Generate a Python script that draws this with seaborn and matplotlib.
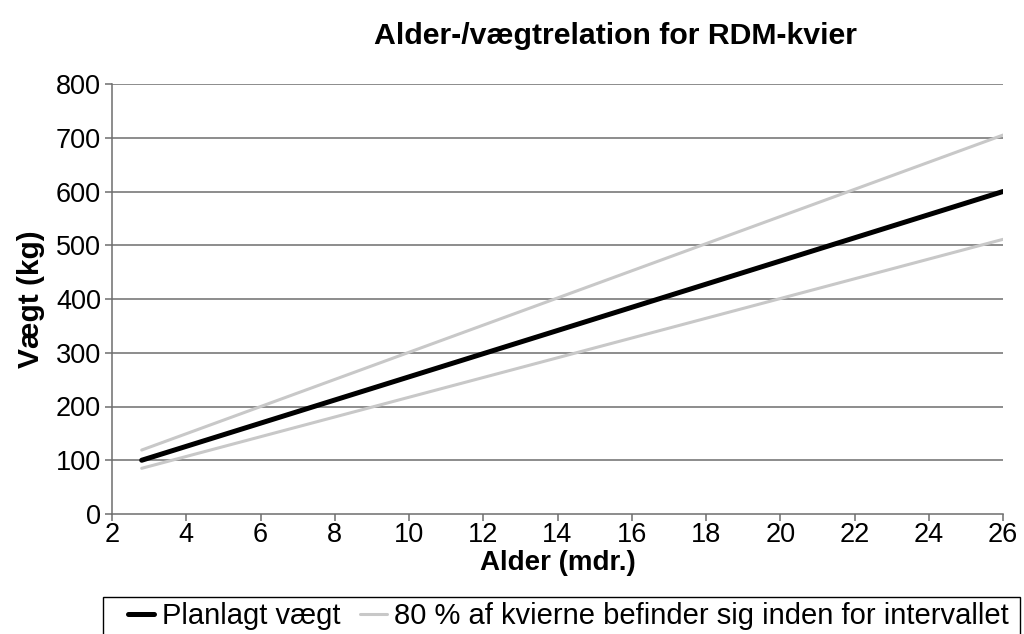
import numpy as np
import pandas as pd
import matplotlib
matplotlib.use("Agg")
import matplotlib.pyplot as plt
from matplotlib.lines import Line2D
from matplotlib.patches import Rectangle
import seaborn as sns

# Data
alder = [2.8, 26]
planlagt = [100, 600]
oevre = [119, 705]
nedre = [85, 511]

df = pd.DataFrame({
    "alder": alder * 3,
    "vaegt": planlagt + oevre + nedre,
    "serie": ["planlagt"] * 2 + ["oevre"] * 2 + ["nedre"] * 2,
})

sns.set_style("white")
plt.rcParams["font.family"] = ["Liberation Sans", "DejaVu Sans"]
plt.rcParams["text.color"] = "black"
plt.rcParams["axes.labelcolor"] = "black"
plt.rcParams["xtick.labelcolor"] = "black"
plt.rcParams["ytick.labelcolor"] = "black"

fig = plt.figure(figsize=(10.24, 6.34), dpi=100)
ax = fig.add_axes([112 / 1024, 1 - 514 / 634, (1003 - 112) / 1024, (514 - 84) / 634])

for y in range(100, 900, 100):
    ax.axhline(y, color="#6e6e6e", lw=1.1, zorder=1)

sns.lineplot(data=df[df.serie == "oevre"], x="alder", y="vaegt", color="#c8c8c8", lw=2.2, ax=ax, zorder=2)
sns.lineplot(data=df[df.serie == "nedre"], x="alder", y="vaegt", color="#c8c8c8", lw=2.2, ax=ax, zorder=2)
sns.lineplot(data=df[df.serie == "planlagt"], x="alder", y="vaegt", color="black", lw=3.6, ax=ax, zorder=3)

ax.set_xlim(2, 26)
ax.set_ylim(0, 800)
ax.set_xticks(range(2, 27, 2))
ax.set_yticks(range(0, 900, 100))
ax.tick_params(axis="both", labelsize=19.5, direction="out", length=5, color="#6e6e6e", width=1.1,
               bottom=True, left=True)
ax.tick_params(axis="x", pad=1)
ax.tick_params(axis="y", pad=3)
for s in ["top", "right"]:
    ax.spines[s].set_visible(False)
for s in ["left", "bottom"]:
    ax.spines[s].set_color("#6e6e6e")
    ax.spines[s].set_linewidth(1.1)

ax.set_xlabel("Alder (mdr.)", fontsize=20, fontweight="bold", labelpad=1)
ax.set_ylabel("Vægt (kg)", fontsize=21.5, fontweight="bold", labelpad=8)

fig.text(616 / 1024, 1 - 36 / 634, "Alder-/vægtrelation for RDM-kvier",
         ha="center", va="center", fontsize=21.8, fontweight="bold")

# legend box (cut by the bottom edge, as in the reference)
fig.patches.append(Rectangle((103 / 1024, -0.05), (1020 - 103) / 1024, 0.05 + (634 - 597) / 634,
                             transform=fig.transFigure, fill=False, edgecolor="black", lw=1.0))

handles = [Line2D([], [], color="black", lw=3.6),
           Line2D([], [], color="#c8c8c8", lw=2.2)]
leg = fig.legend(handles, ["Planlagt vægt", "80 % af kvierne befinder sig inden for intervallet"],
                 loc="upper left", bbox_to_anchor=(128 / 1024, 1 - 602 / 634), ncol=2,
                 fontsize=21, frameon=False, handlelength=0.9,
                 handletextpad=0.25, columnspacing=0.7, borderpad=0, borderaxespad=0)

fig.savefig("out.png", dpi=100)
